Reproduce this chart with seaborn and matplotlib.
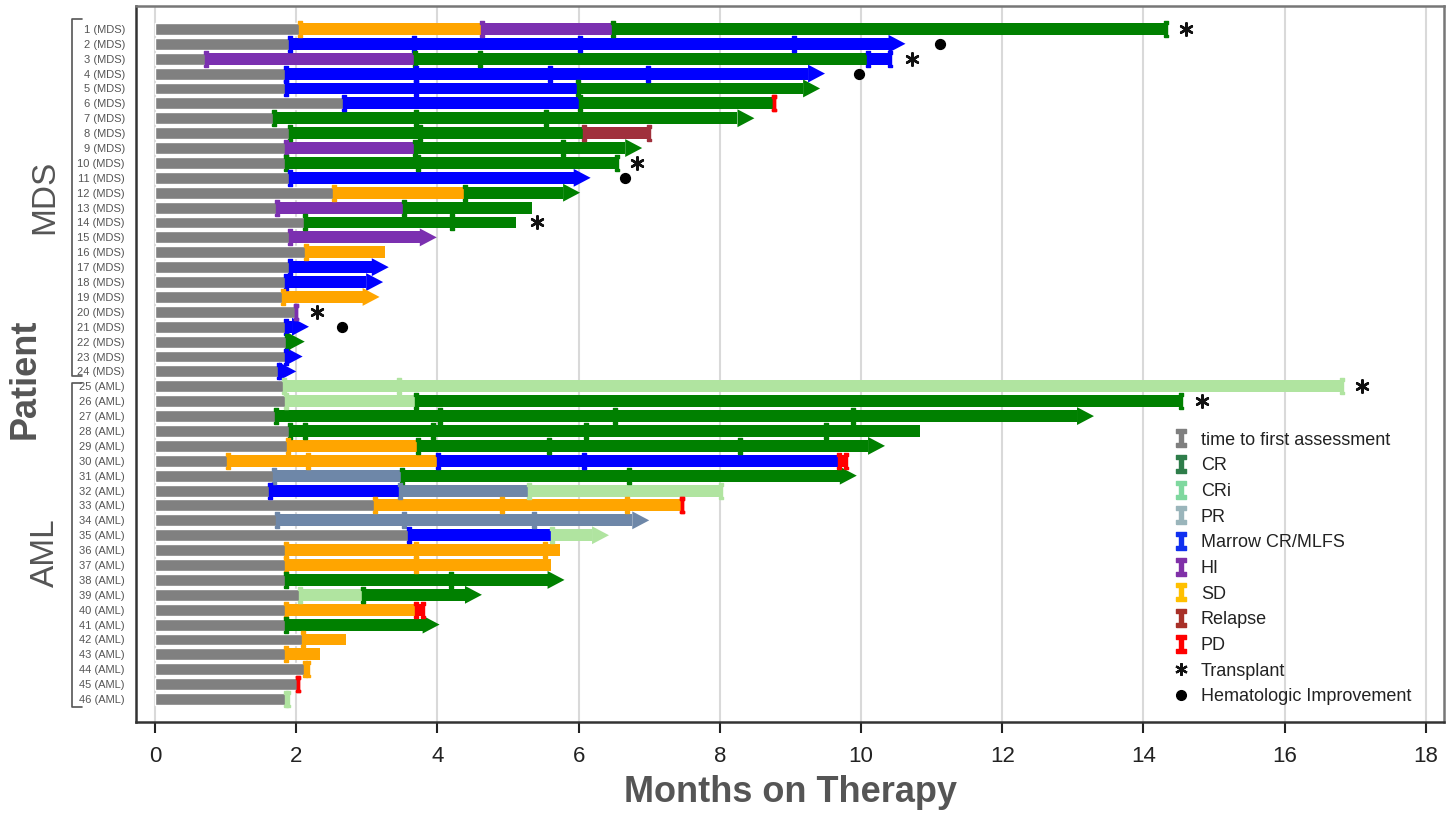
import numpy as np
import pandas as pd
import matplotlib
matplotlib.use("Agg")
import matplotlib.pyplot as plt
from matplotlib.lines import Line2D
import seaborn as sns

# patient labels
labels = [f"{i} (MDS)" for i in range(1, 25)] + [f"{i} (AML)" for i in range(25, 47)]

# end of the grey "time to first assessment" bar (months)
first_assess = [2.06, 1.91, 0.72, 1.86, 1.86, 2.67, 1.68, 1.91, 1.86, 1.86,
                1.91, 2.53, 1.73, 2.12, 1.91, 2.14, 1.91, 1.86, 1.81, 2.00,
                1.86, 1.87, 1.85, 1.75,
                1.82, 1.86, 1.71, 1.91, 1.89, 1.03, 1.68, 1.63, 3.12, 1.73,
                3.59, 1.86, 1.86, 1.86, 2.05, 1.86, 1.86, 2.09, 1.86, 2.13,
                2.03, 1.86]

# response segments after first assessment: (state, end month)
segments = [
    [("SD", 4.63), ("HI", 6.48), ("CR", 14.32)],
    [("MCR", 10.63)],
    [("HI", 3.68), ("CR", 10.10), ("MCR", 10.41)],
    [("MCR", 9.49)],
    [("MCR", 5.99), ("CR", 9.42)],
    [("MCR", 6.02), ("CR", 8.77), ("PD", 8.77)],
    [("CR", 8.49)],
    [("CR", 6.07), ("Relapse", 6.99)],
    [("HI", 3.68), ("CR", 6.90)],
    [("CR", 6.54)],
    [("MCR", 6.17)],
    [("SD", 4.39), ("CR", 6.02)],
    [("HI", 3.53), ("CR", 5.34)],
    [("CR", 5.11)],
    [("HI", 3.99)],
    [("SD", 3.25)],
    [("MCR", 3.31)],
    [("MCR", 3.23)],
    [("SD", 3.18)],
    [("HI", 2.00)],
    [("MCR", 2.18)],
    [("CR", 2.12)],
    [("MCR", 2.09)],
    [("MCR", 2.00)],
    [("CRi", 16.82)],
    [("CRi", 3.70), ("CR", 14.53)],
    [("CR", 13.30)],
    [("CR", 10.83)],
    [("SD", 3.72), ("CR", 10.34)],
    [("SD", 4.01), ("MCR", 9.69), ("PD", 9.79)],
    [("PR", 3.50), ("CR", 9.94)],
    [("MCR", 3.47), ("PR", 5.30), ("CRi", 8.02)],
    [("SD", 7.46), ("PD", 7.46)],
    [("PR", 7.00)],
    [("MCR", 5.62), ("CRi", 6.43)],
    [("SD", 5.73)],
    [("SD", 5.61)],
    [("CR", 5.80)],
    [("CRi", 2.95), ("CR", 4.63)],
    [("SD", 3.70), ("PD", 3.80)],
    [("CR", 4.03)],
    [("SD", 2.70)],
    [("SD", 2.33)],
    [("SD", 2.17)],
    [("PD", 2.03)],
    [("CRi", 1.88)],
]

# how each bar ends: ongoing arrow, end cap, or plain
end_type = ["cap", "arrow", "cap", "arrow", "arrow", "cap", "arrow", "cap", "arrow", "cap",
            "arrow", "arrow", "flat", "flat", "arrow", "flat", "arrow", "arrow", "arrow", "cap",
            "arrow", "arrow", "arrow", "arrow",
            "cap", "cap", "arrow", "flat", "arrow", "cap", "arrow", "cap", "cap", "arrow",
            "arrow", "flat", "flat", "arrow", "arrow", "cap", "arrow", "flat", "flat", "cap",
            "cap", "cap"]

# additional assessment time points inside segments (row index -> months)
assess_marks = {1: [3.67, 6.02, 9.05], 2: [4.6], 3: [3.7, 5.59, 6.98], 4: [3.7],
                6: [3.7, 5.54], 7: [3.75], 8: [5.78], 9: [3.73], 13: [4.21],
                24: [3.45], 26: [4.03, 6.51, 9.89], 27: [2.12, 3.94, 6.1, 9.5],
                28: [5.58, 8.28], 29: [2.16, 6.07], 30: [6.72], 32: [4.92, 6.68],
                33: [3.52, 5.37], 35: [3.7, 5.52], 36: [3.7], 37: [4.19]}

transplant_row = [0, 2, 9, 13, 19, 24, 25]
transplant_x = [14.6, 10.72, 6.82, 5.41, 2.3, 17.09, 14.83]
hemimp_row = [1, 3, 10, 20]
hemimp_x = [11.12, 9.97, 6.65, 2.65]

states = ["first", "CR", "CRi", "PR", "MCR", "HI", "SD", "Relapse", "PD"]
state_names = ["time to first assessment", "CR", "CRi", "PR", "Marrow CR/MLFS",
               "HI", "SD", "Relapse", "PD"]
bar_colors = {"first": "#808080", "CR": "#008000", "CRi": "#b0e4a0", "PR": "#6e87a8",
              "MCR": "#0000ff", "HI": "#7b30b0", "SD": "#ffa500", "Relapse": "#a0303c",
              "PD": "#ff0000"}
legend_colors = ["#7f7f7f", "#2e7d4a", "#7fd89f", "#9ab5bb", "#1030f0",
                 "#8030a8", "#ffc000", "#a83028", "#ff0000"]

sns.set_theme(style="white")
plt.rcParams["font.family"] = ["Liberation Sans", "DejaVu Sans"]

fig, ax = plt.subplots(figsize=(14.47, 8.17), dpi=100)
fig.subplots_adjust(left=0.094, right=0.998, top=0.9927, bottom=0.1163)

ax.grid(axis="x", color="#d9d9d9", lw=1.5)
ax.set_axisbelow(True)

df = pd.DataFrame({"patient": labels, "months": first_assess})
bar_h = 0.8
sns.barplot(data=df, y="patient", x="months", orient="h", color=bar_colors["first"],
            saturation=1, width=bar_h, ax=ax)

ibeam = [(-0.3, -1), (0.3, -1), (0.3, -0.72), (0.1, -0.72), (0.1, 0.72), (0.3, 0.72),
         (0.3, 1), (-0.3, 1), (-0.3, 0.72), (-0.1, 0.72), (-0.1, -0.72), (-0.3, -0.72),
         (-0.3, -1)]
ibeam_leg = [(-0.6, -1), (0.6, -1), (0.6, -0.62), (0.28, -0.62), (0.28, 0.62), (0.6, 0.62),
             (0.6, 1), (-0.6, 1), (-0.6, 0.62), (-0.28, 0.62), (-0.28, -0.62), (-0.6, -0.62),
             (-0.6, -1)]

head_len = 0.24
head_half = 0.6

for i, segs in enumerate(segments):
    left = first_assess[i]
    for k, (st, end) in enumerate(segs):
        c = bar_colors[st]
        last = k == len(segs) - 1
        right = end - head_len if (last and end_type[i] == "arrow") else end
        if right > left:
            ax.barh(i, right - left, left=left, height=bar_h, color=c, lw=0)
        ax.plot([left], [i], marker=ibeam, ms=11, color=c, ls="none")
        for m in assess_marks.get(i, []):
            if left < m < end:
                ax.plot([m], [i], marker=ibeam, ms=11, color=c, ls="none")
        if last:
            if end_type[i] == "arrow":
                ax.fill([right, end, right], [i - head_half, i, i + head_half], color=c, lw=0)
            elif end_type[i] == "cap":
                ax.plot([end], [i], marker=ibeam, ms=11, color=c, ls="none")
        left = end

ax.scatter(transplant_x, transplant_row, marker=(6, 2, 0), s=80, color="#111111",
           linewidths=1.8, zorder=5)
ax.scatter(hemimp_x, hemimp_row, marker="o", s=50, color="black", zorder=5)

ax.set_xlim(-0.27, 18.26)
ax.set_ylim(46.54, -1.54)
ax.set_xticks(np.arange(0, 19, 2))
ax.tick_params(axis="x", labelsize=16, length=8, width=1.5, colors="#222222", pad=9,
               direction="out", bottom=True)
ax.tick_params(axis="y", length=0, pad=8)
for t in ax.get_yticklabels():
    t.set_fontsize(8)
    t.set_color("#555555")
    t.set_family(["Liberation Sans Narrow", "Liberation Sans", "DejaVu Sans"])

ax.set_ylabel("")
ax.set_xlabel("Months on Therapy", fontsize=26, fontweight="bold", color="#555555", labelpad=6)

for side in ["left", "bottom"]:
    ax.spines[side].set_color("#333333")
    ax.spines[side].set_linewidth(1.8)
for side in ["top", "right"]:
    ax.spines[side].set_color("#777777")
    ax.spines[side].set_linewidth(1.8)

# group brackets and labels
tr = ax.get_yaxis_transform()
for y0, y1 in [(-0.67, 23.3), (23.77, 45.53)]:
    ax.plot([-0.041, -0.049, -0.049, -0.041], [y0, y0, y1, y1], color="#555555", lw=1.2,
            transform=tr, clip_on=False)
ax.text(-0.0696, 11.3, "MDS", transform=tr, rotation=90, fontsize=24, color="#555555",
        ha="center", va="center")
ax.text(-0.0696, 35.2, "AML", transform=tr, rotation=90, fontsize=24, color="#555555",
        ha="center", va="center")
ax.text(-0.085, 23.5, "Patient", transform=tr, rotation=90, fontsize=26, fontweight="bold",
        color="#555555", ha="center", va="center")

handles = [Line2D([], [], ls="none", marker=ibeam_leg, ms=12.5, color=c) for c in legend_colors]
handles.append(Line2D([], [], ls="none", marker=(6, 2, 0), ms=9, mew=1.6, color="#111111"))
handles.append(Line2D([], [], ls="none", marker="o", ms=7, color="black"))
names = state_names + ["Transplant", "Hematologic Improvement"]
ax.legend(handles, names, loc="upper left", bbox_to_anchor=(0.785, 0.418), frameon=False,
          fontsize=13, borderpad=0, handlelength=1.0, handletextpad=0.6, labelspacing=0.48,
          labelcolor="#222222")

fig.savefig("out.png", dpi=100)
